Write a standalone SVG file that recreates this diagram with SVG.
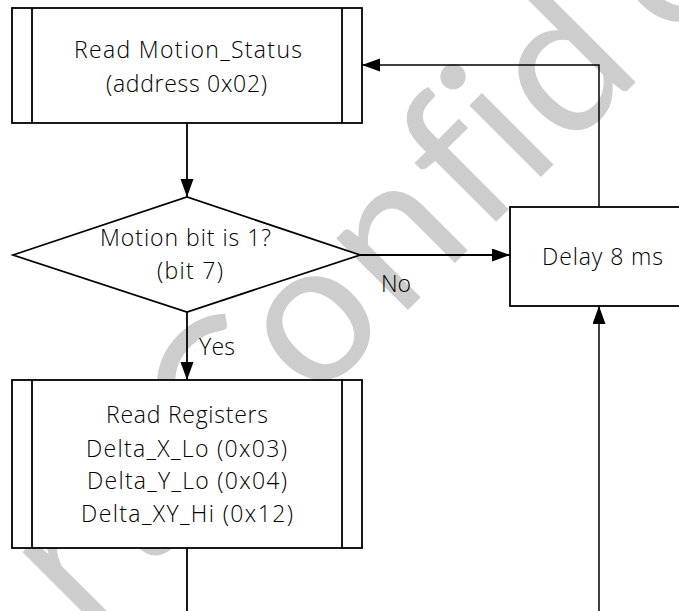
<svg xmlns="http://www.w3.org/2000/svg" width="679" height="611" viewBox="0 0 679 611">
<defs>
<marker id="arr" markerUnits="userSpaceOnUse" markerWidth="20" markerHeight="14" refX="18" refY="6.5" orient="auto">
<path d="M0,0 L18,6.5 L0,13 z" fill="#000"/>
</marker>
<style>
.box{fill:#fff;stroke:#000;stroke-width:1.8}
.ln{fill:none;stroke:#000;stroke-width:1.8}
.con{fill:none;stroke:#000;stroke-width:1.8}
.thin{stroke-width:1.5}
.t{font-family:"Open Sans","Liberation Sans",sans-serif;font-size:23px;font-weight:300;fill:#000;text-anchor:middle}
.wm{font-family:Lato,"Open Sans",sans-serif;font-size:200px;fill:#cdcdcd}
</style>
</defs>
<rect width="679" height="611" fill="#fff"/>
<g id="watermark" transform="translate(0,718) rotate(-45)">
<text class="wm" x="119 198 273 318 444 563 681 750 801 950" y="0">rt Confide</text>
</g>
<g id="connectors">
<path class="con" d="M187,123 V197" marker-end="url(#arr)"/>
<path class="con" d="M360,255 H510" marker-end="url(#arr)"/>
<path class="con" d="M187,312 V380" marker-end="url(#arr)"/>
<path class="con thin" d="M599,207 V65 H362" marker-end="url(#arr)"/>
<path class="con" d="M187,548 V612"/>
<path class="con thin" d="M599,612 V306" marker-end="url(#arr)"/>
<text class="t" x="396" y="292" textLength="30">No</text>
<text class="t" x="217" y="355" textLength="36">Yes</text>
</g>
<g id="read-motion">
<rect class="box" x="12" y="8" width="350" height="115"/>
<line class="ln" x1="32" y1="8" x2="32" y2="123"/>
<line class="ln" x1="342" y1="8" x2="342" y2="123"/>
<text class="t" x="188" y="58" textLength="228">Read Motion_Status</text>
<text class="t" x="186.5" y="92" textLength="161">(address 0x02)</text>
</g>
<g id="decision">
<polygon class="box" points="13,255 187,197 360,255 187,312"/>
<text class="t" x="185.5" y="246" textLength="171">Motion bit is 1?</text>
<text class="t" x="190" y="279" textLength="66">(bit 7)</text>
</g>
<g id="delay">
<rect class="box" x="510" y="207" width="185" height="99"/>
<text class="t" x="602.5" y="265" textLength="121">Delay 8 ms</text>
</g>
<g id="read-registers">
<rect class="box" x="12" y="380" width="350" height="168"/>
<line class="ln" x1="32" y1="380" x2="32" y2="548"/>
<line class="ln" x1="342" y1="380" x2="342" y2="548"/>
<text class="t" x="187" y="423" textLength="162">Read Registers</text>
<text class="t" x="186.5" y="457" textLength="201">Delta_X_Lo (0x03)</text>
<text class="t" x="187" y="489" textLength="200">Delta_Y_Lo (0x04)</text>
<text class="t" x="187" y="522" textLength="212">Delta_XY_Hi (0x12)</text>
</g>
</svg>
